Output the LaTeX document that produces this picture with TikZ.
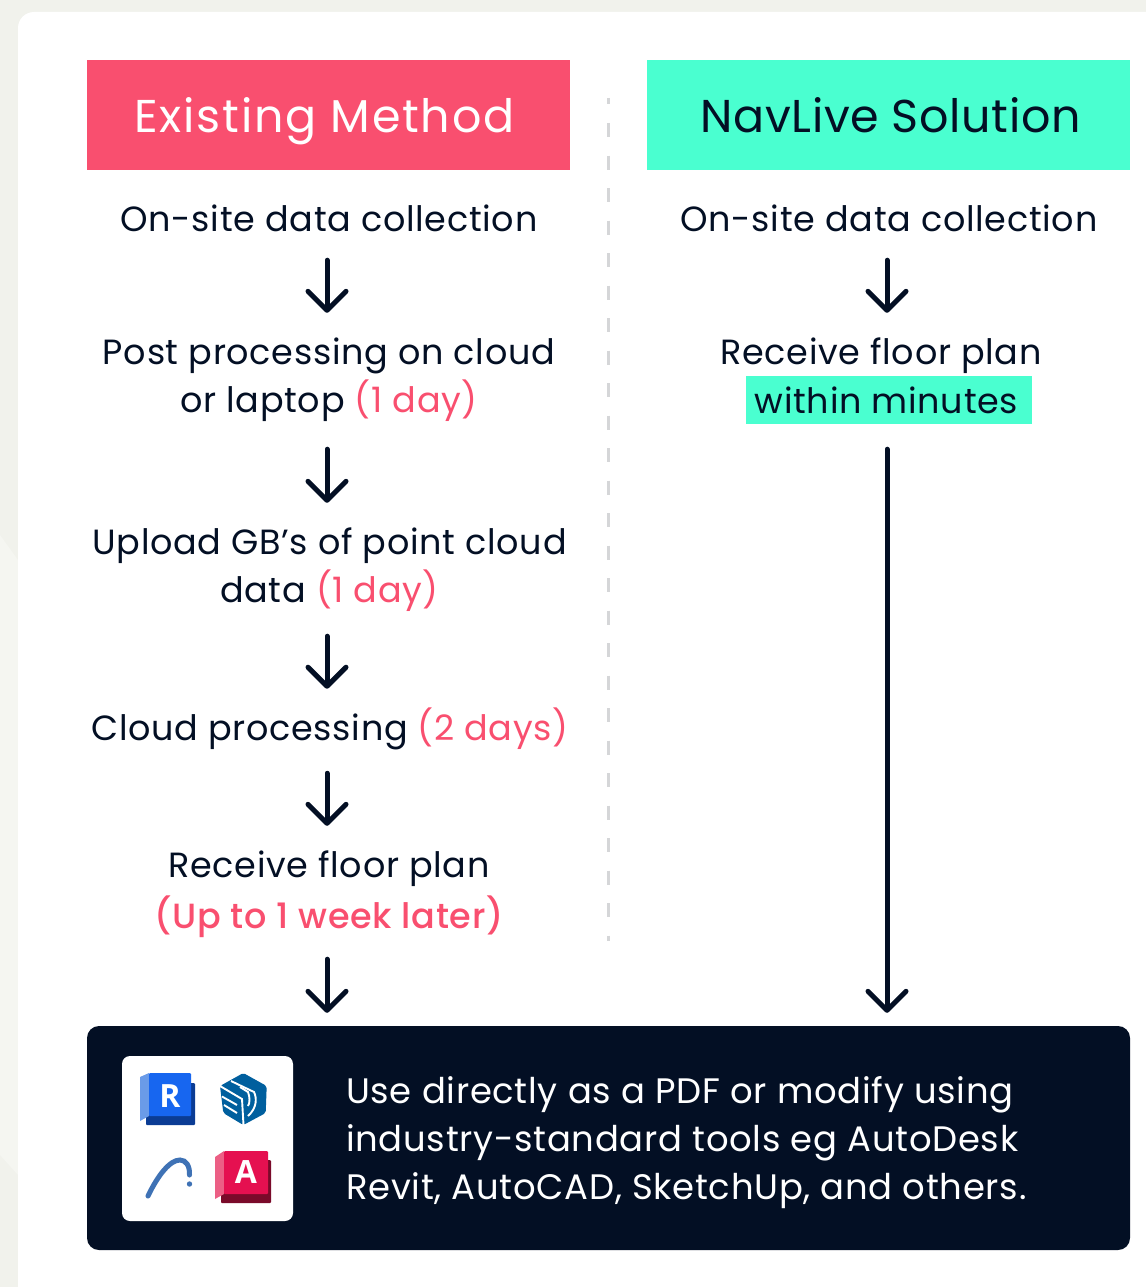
\documentclass[tikz,border=0pt]{standalone}
\usepackage{fontspec}
\setmainfont{Poppins}[LetterSpace=2]
\newfontfamily\medfont{Poppins Medium}[LetterSpace=2]
\newfontfamily\headA{Poppins}[LetterSpace=3.9]
\newfontfamily\headB{Poppins}[LetterSpace=1.4]
\newfontfamily\iconfont{Open Sans}
\usetikzlibrary{arrows.meta}
\definecolor{bgdark}{HTML}{F1F2EC}
\definecolor{bglight}{HTML}{F5F6F1}
\definecolor{navy}{HTML}{030F24}
\definecolor{pinkc}{HTML}{F94F6F}
\definecolor{mint}{HTML}{4AFFD0}
\definecolor{dashc}{HTML}{D5D6D8}
\definecolor{rvfront}{HTML}{1766F0}
\definecolor{rvback}{HTML}{0B3C94}
\definecolor{rvside}{HTML}{6A9BE8}
\definecolor{acfront}{HTML}{E51050}
\definecolor{acback}{HTML}{7A0A2A}
\definecolor{acside}{HTML}{EC5F85}
\definecolor{skp}{HTML}{005F9E}
\definecolor{arcc}{HTML}{3F72B5}
\tikzset{
  head/.style={inner sep=0pt, minimum height=110pt, minimum width=483pt, text height=34pt, text depth=0pt},
  body/.style={font=\fontsize{35}{48}\selectfont, text=navy, inner sep=0pt, align=center},
  flow/.style={draw=navy, line width=5pt, line cap=round, -{Straight Barb[round,length=19pt,width=38pt]}},
  skline/.style={draw=white, line width=1.9pt},
  letter/.style={font=\iconfont\fontsize{32}{32}\selectfont\bfseries, text=white, inner sep=0pt}
}
\newcommand{\pk}[1]{\textcolor{pinkc}{#1}}
\begin{document}
\begin{tikzpicture}[x=1pt,y=-1pt]
\useasboundingbox (0,0) rectangle (1146,1287);
\fill[bgdark] (0,0) rectangle (1146,1287);
\fill[bglight] (0,535) -- (18,560) -- (18,1175) -- (0,1155) -- cycle;
\fill[white, rounded corners=16pt] (1200,12) -- (18,12) -- (18,1350) -- (1200,1350) -- cycle;
\coordinate (axl) at (327,0);
\coordinate (axr) at (887,0);
\node[head, fill=pinkc, text=white, font=\headA\fontsize{46}{50}\selectfont] (hl) at (328.5,115) {\kern-8pt Existing Method};
\node[head, fill=mint, text=navy, font=\headB\fontsize{46}{50}\selectfont] (hr) at (888.5,115) {\kern4pt NavLive Solution};
\draw[dashc, line width=3pt, dash pattern=on 14pt off 18.5pt, dash phase=7.5pt] (608,98) -- (608,941);

\node[body, minimum height=40pt] (t1) at (329,218.5) {On-site data collection};
\node[body, minimum height=90pt] (t2) at (329,380) {Post processing on cloud\\or laptop \pk{(1 day)}};
\node[body, minimum height=90pt] (t3) at (329.5,569.5) {Upload GB’s of point cloud\\data \pk{(1 day)}};
\node[body, minimum height=40pt] (t4) at (330,729) {Cloud processing \pk{(2 days)}};
\node[body, minimum height=90pt] (t5) at (329,894) {Receive floor plan\\[3pt]{\medfont\pk{(Up to 1 week later)}}};

\node[body, minimum height=40pt] (r1) at (889,218.5) {On-site data collection};
\node[body, minimum height=40pt] (r2) at (881,356) {Receive floor plan};
\node[body, fill=mint, minimum width=286pt, minimum height=48pt] (r3) at (889,400) {\kern-5pt within minutes};

\node[fill=navy, rounded corners=12pt, minimum width=1043pt, minimum height=224pt, inner sep=0pt] (bar) at (608.5,1138) {};
\node[fill=white, rounded corners=8pt, minimum width=171pt, minimum height=165pt, inner sep=0pt] (card) at (207.5,1138.5) {};
\node[body, text=white, align=left, anchor=west, font=\fontsize{35.4}{48}\selectfont] (msg) at (346,1143) {Use directly as a PDF or modify using\\industry-standard tools eg AutoDesk\\Revit, AutoCAD, SketchUp, and others.};

\draw[flow, shorten <=21.5pt, shorten >=22pt] (t1.south -| axl) -- (t2.north -| axl);
\draw[flow, shorten <=24pt, shorten >=21.5pt] (t2.south -| axl) -- (t3.north -| axl);
\draw[flow, shorten <=21.5pt, shorten >=19pt] (t3.south -| axl) -- (t4.north -| axl);
\draw[flow, shorten <=23pt, shorten >=23pt] (t4.south -| axl) -- (t5.north -| axl);
\draw[flow, shorten <=20pt, shorten >=13pt] (t5.south -| axl) -- (axl |- bar.north);
\draw[flow, shorten <=21.5pt, shorten >=23pt] (r1.south -| axr) -- (axr |- r2.north);
\draw[flow, shorten <=25pt, shorten >=13pt] (r3.south -| axr) -- (axr |- bar.north);

% Revit
\fill[rvback, rounded corners=1pt] (146,1083) rectangle (195,1125);
\fill[rvside] (140,1077) -- (149,1073) -- (149,1116) -- (140,1121) -- cycle;
\fill[rvfront, rounded corners=1pt] (149,1073) rectangle (191,1116);
\node[letter] (rv) at (170,1096) {R};
% SketchUp
\fill[skp, rounded corners=2pt] (243.3,1073) -- (266.7,1086) -- (265.7,1113) -- (243.3,1125) -- (223.3,1113) -- (220,1086) -- cycle;
\draw[skline] (220,1086) -- (242,1099) -- (243.5,1125);
\draw[skline] (222,1096.5) -- (237,1105);
\draw[skline] (224,1105) -- (237,1113);
\draw[skline] (231,1081) -- (254,1092) .. controls (257,1098) and (257,1108) .. (248,1116);
\draw[skline] (240,1087) -- (248,1092) .. controls (250,1097) and (250,1103) .. (248,1106);
% Arch
\draw[arcc, line width=5pt, line cap=round] (148,1196) .. controls (158,1175) and (170,1160) .. (180,1160) .. controls (186,1160) and (190,1166) .. (189.5,1175);
\fill[arcc] (189.5,1184) circle[radius=2.7];
% AutoCAD
\fill[acback, rounded corners=1pt] (221,1160) rectangle (271,1203);
\fill[acside] (215,1157) -- (224,1151) -- (224,1194) -- (215,1199) -- cycle;
\fill[acfront, rounded corners=1pt] (224,1151) rectangle (268,1194);
\node[letter] (ac) at (246,1172) {A};
\end{tikzpicture}
\end{document}
